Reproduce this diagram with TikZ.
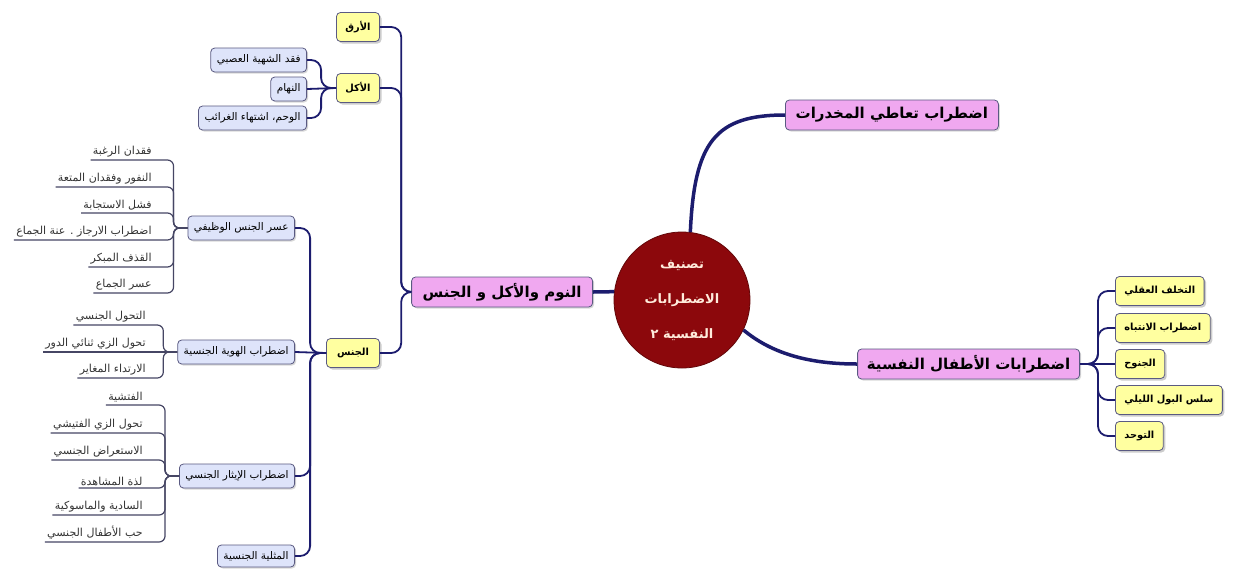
\documentclass[tikz,border=0pt]{standalone}
\usepackage{fontspec}
\newfontfamily\arabicfont[Script=Arabic]{DejaVu Sans}
\TeXXeTstate=1
\usepackage{xcolor}
\usetikzlibrary{shadows}

\newcommand{\artxt}[1]{\arabicfont\beginR #1\endR}

\definecolor{rootred}{RGB}{140,8,12}
\definecolor{rootink}{RGB}{255,236,220}
\definecolor{topicpink}{RGB}{240,168,240}
\definecolor{catyellow}{RGB}{255,255,160}
\definecolor{subblue}{RGB}{222,228,250}
\definecolor{boxedge}{RGB}{90,90,130}
\definecolor{linkblue}{RGB}{28,28,110}
\definecolor{leafline}{RGB}{70,70,100}

\begin{document}
\begin{tikzpicture}[x=1pt,y=-1pt,thick,
  root/.style={circle,fill=rootred,draw=rootred!70!black,minimum size=136pt,inner sep=0pt,text=rootink,align=center,font=\bfseries\fontsize{13}{35}\selectfont},
  topic/.style={rounded corners=4pt,draw=boxedge,fill=topicpink,minimum height=30pt,inner xsep=8pt,inner ysep=2pt,font=\bfseries\fontsize{15}{17}\selectfont,drop shadow={shadow xshift=1.5pt,shadow yshift=-1.5pt,opacity=0.3}},
  cat/.style={rounded corners=4pt,draw=boxedge,fill=catyellow,minimum height=29pt,inner xsep=9pt,font=\bfseries\fontsize{9.8}{11}\selectfont,drop shadow={shadow xshift=2pt,shadow yshift=-2pt,opacity=0.4}},
  sub/.style={rounded corners=4pt,draw=boxedge,fill=subblue,minimum height=24pt,inner xsep=6pt,inner ysep=2pt,font=\fontsize{10.5}{12}\selectfont,drop shadow={shadow xshift=1.5pt,shadow yshift=-1.5pt,opacity=0.3}},
  leaf/.style={anchor=south east,inner sep=2pt,text=black!80,font=\fontsize{11}{12}\selectfont},
  mainlink/.style={draw=linkblue,line width=3.5pt},
  link/.style={draw=linkblue,line width=1.8pt,rounded corners=10pt},
  leaflink/.style={draw=leafline,line width=1.2pt,rounded corners=6pt}]
\useasboundingbox (0,0) rectangle (1234,574);
\fill[white] (0,0) rectangle (1234,574);

% centre
\node [root] (root) at (682,300) {\artxt{تصنيف}\\\artxt{الاضطرابات}\\\artxt{النفسية ٢}};

% main topics
\node [topic,anchor=west,minimum width=213pt] (drugs) at (785,115) {\artxt{اضطراب تعاطي المخدرات}};
\node [topic,anchor=east,minimum width=222pt] (kids) at (1080,364) {\artxt{اضطرابات الأطفال النفسية}};
\node [topic,anchor=east,minimum width=181pt] (sleep) at (593,292) {\artxt{النوم والأكل و الجنس}};

% children disorders
\node [cat,anchor=west] (retard) at (1115,291) {\artxt{التخلف العقلي}};
\node [cat,anchor=west] (attention) at (1115,328) {\artxt{اضطراب الانتباه}};
\node [cat,anchor=west] (delinq) at (1115,364) {\artxt{الجنوح}};
\node [cat,anchor=west] (enuresis) at (1115,400) {\artxt{سلس البول الليلي}};
\node [cat,anchor=west] (autism) at (1115,436) {\artxt{التوحد}};

% sleep, eating, sex
\node [cat,minimum width=43pt,inner xsep=5pt] (insomnia) at (358,27) {\artxt{الأرق}};
\node [cat,minimum width=43pt,inner xsep=5pt] (eating) at (358,88) {\artxt{الأكل}};
\node [cat,minimum width=53pt,inner xsep=5pt] (sex) at (353,353) {\artxt{الجنس}};

% eating
\node [sub,anchor=east] (anorexia) at (307,60) {\artxt{فقد الشهية العصبي}};
\node [sub,anchor=east] (bulimia) at (307,89) {\artxt{النهام}};
\node [sub,anchor=east] (pica) at (307,118) {\artxt{الوحم، اشتهاء الغرائب}};

% sex
\node [sub,anchor=east] (dysfunc) at (295,228) {\artxt{عسر الجنس الوظيفي}};
\node [sub,anchor=east] (identity) at (295,352) {\artxt{اضطراب الهوية الجنسية}};
\node [sub,anchor=east] (paraph) at (295,476) {\artxt{اضطراب الإيثار الجنسي}};
\node [sub,anchor=east,minimum height=22pt] (homo) at (295,556) {\artxt{المثلية الجنسية}};

% dysfunction leaves
\node [leaf] (desire) at (154,160) {\artxt{فقدان الرغبة}};
\node [leaf] (aversion) at (154,187) {\artxt{النفور وفقدان المتعة}};
\node [leaf] (response) at (154,213) {\artxt{فشل الاستجابة}};
\node [leaf] (orgasm) at (154,240) {\artxt{اضطراب الارجاز . عنة الجماع}};
\node [leaf] (ejac) at (154,267) {\artxt{القذف المبكر}};
\node [leaf] (dyspar) at (154,293) {\artxt{عسر الجماع}};

% identity leaves
\node [leaf] (transsex) at (148,325) {\artxt{التحول الجنسي}};
\node [leaf] (dualrole) at (148,352) {\artxt{تحول الزي ثنائي الدور}};
\node [leaf] (crossdress) at (148,378) {\artxt{الارتداء المغاير}};

% preference leaves
\node [leaf] (fetish) at (145,405) {\artxt{الفتشية}};
\node [leaf] (fettrans) at (145,433) {\artxt{تحول الزي الفتيشي}};
\node [leaf] (exhib) at (145,460) {\artxt{الاستعراض الجنسي}};
\node [leaf] (voyeur) at (145,488) {\artxt{لذة المشاهدة}};
\node [leaf] (sadomaso) at (145,515) {\artxt{السادية والماسوكية}};
\node [leaf] (pedo) at (145,542) {\artxt{حب الأطفال الجنسي}};

% connectors
\draw [mainlink] (root.173) -- (sleep.east);
\draw [mainlink] (root.83) .. controls +(4,-90) and +(-70,0) .. (drugs.west);
\draw [mainlink] (root.-26) .. controls +(30,25) and +(-45,0) .. (kids.west);

\draw [link] (kids.east) -- ++(18,0) |- (retard.west);
\draw [link] (kids.east) -- ++(18,0) |- (attention.west);
\draw [link] (kids.east) -- (delinq.west);
\draw [link] (kids.east) -- ++(18,0) |- (enuresis.west);
\draw [link] (kids.east) -- ++(18,0) |- (autism.west);

\draw [link] (sleep.west) -- ++(-10,0) |- (insomnia.east);
\draw [link] (sleep.west) -- ++(-10,0) |- (eating.east);
\draw [link] (sleep.west) -- ++(-10,0) |- (sex.east);

\draw [link] (eating.west) -- ++(-15,0) |- (anorexia.east);
\draw [link] (eating.west) -- (bulimia.east);
\draw [link] (eating.west) -- ++(-15,0) |- (pica.east);

\draw [link] (sex.west) -- ++(-16,0) |- (dysfunc.east);
\draw [link] (sex.west) -- (identity.east);
\draw [link] (sex.west) -- ++(-16,0) |- (paraph.east);
\draw [link] (sex.west) -- ++(-16,0) |- (homo.east);

\draw [leaflink] (dysfunc.west) -- ++(-14,0) |- (desire.south east) -- (desire.south west);
\draw [leaflink] (dysfunc.west) -- ++(-14,0) |- (aversion.south east) -- (aversion.south west);
\draw [leaflink] (dysfunc.west) -- ++(-14,0) |- (response.south east) -- (response.south west);
\draw [leaflink] (dysfunc.west) -- ++(-14,0) |- (orgasm.south east) -- (orgasm.south west);
\draw [leaflink] (dysfunc.west) -- ++(-14,0) |- (ejac.south east) -- (ejac.south west);
\draw [leaflink] (dysfunc.west) -- ++(-14,0) |- (dyspar.south east) -- (dyspar.south west);

\draw [leaflink] (identity.west) -- ++(-14,0) |- (transsex.south east) -- (transsex.south west);
\draw [leaflink] (identity.west) -- (dualrole.south east) -- (dualrole.south west);
\draw [leaflink] (identity.west) -- ++(-14,0) |- (crossdress.south east) -- (crossdress.south west);

\draw [leaflink] (paraph.west) -- ++(-14,0) |- (fetish.south east) -- (fetish.south west);
\draw [leaflink] (paraph.west) -- ++(-14,0) |- (fettrans.south east) -- (fettrans.south west);
\draw [leaflink] (paraph.west) -- ++(-14,0) |- (exhib.south east) -- (exhib.south west);
\draw [leaflink] (paraph.west) -- ++(-14,0) |- (voyeur.south east) -- (voyeur.south west);
\draw [leaflink] (paraph.west) -- ++(-14,0) |- (sadomaso.south east) -- (sadomaso.south west);
\draw [leaflink] (paraph.west) -- ++(-14,0) |- (pedo.south east) -- (pedo.south west);
\end{tikzpicture}
\end{document}
